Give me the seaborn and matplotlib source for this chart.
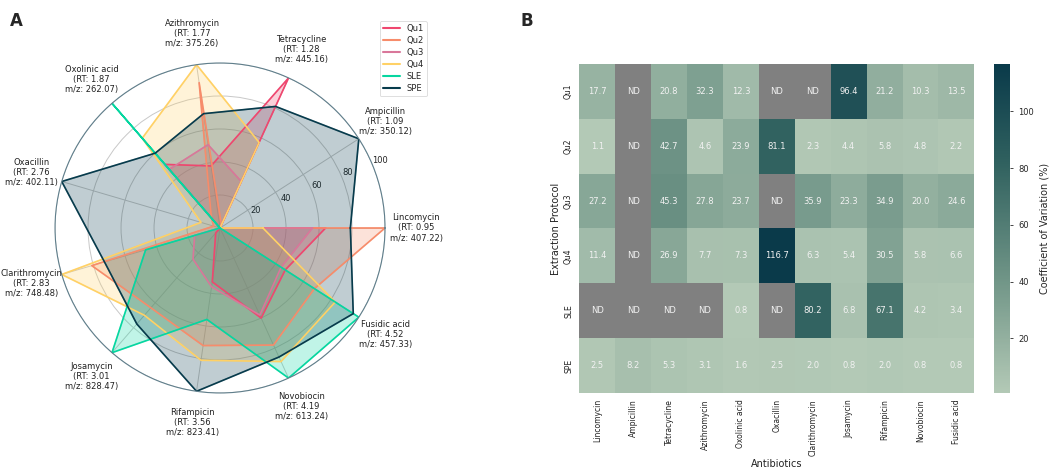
import numpy as np
import pandas as pd
import matplotlib
matplotlib.use('Agg')
import matplotlib.pyplot as plt
import seaborn as sns
from matplotlib.colors import LinearSegmentedColormap, ListedColormap

# Radar data (relative response, %; 0 = not detected)
antibiotics = ['Lincomycin', 'Ampicillin', 'Tetracycline', 'Azithromycin', 'Oxolinic acid',
               'Oxacillin', 'Clarithromycin', 'Josamycin', 'Rifampicin', 'Novobiocin', 'Fusidic acid']
rt_values = [0.95, 1.09, 1.28, 1.77, 1.87, 2.76, 2.83, 3.01, 3.56, 4.19, 4.52]
mz_values = [407.22, 350.12, 445.16, 375.26, 262.07, 402.11, 748.48, 828.47, 823.41, 613.24, 457.33]

qu1 = [64, 0, 100, 38, 51, 0, 0, 4, 33, 60, 47]
qu2 = [100, 0, 2, 89, 8, 4, 81, 64, 72, 78, 68]
qu3 = [56, 0, 31, 51, 47, 0, 16, 25, 36, 58, 44]
qu4 = [26, 0, 57, 100, 72, 12, 100, 70, 81, 89, 83]
sle = [0, 0, 0, 0, 100, 0, 47, 100, 56, 100, 100]
spe = [79, 100, 81, 70, 60, 100, 73, 77, 100, 86, 96]

methods = ['Qu1', 'Qu2', 'Qu3', 'Qu4', 'SLE', 'SPE']
colors = ['#ef476f', '#f78c6b', '#d9779a', '#ffd166', '#06d6a0', '#073b4c']

# Heatmap data (CV %, None = ND)
cv_qu1 = [17.7, None, 20.8, 32.3, 12.3, None, None, 96.4, 21.2, 10.3, 13.5]
cv_qu2 = [1.1, None, 42.7, 4.6, 23.9, 81.1, 2.3, 4.4, 5.8, 4.8, 2.2]
cv_qu3 = [27.2, None, 45.3, 27.8, 23.7, None, 35.9, 23.3, 34.9, 20.0, 24.6]
cv_qu4 = [11.4, None, 26.9, 7.7, 7.3, 116.7, 6.3, 5.4, 30.5, 5.8, 6.6]
cv_sle = [None, None, None, None, 0.8, None, 80.2, 6.8, 67.1, 4.2, 3.4]
cv_spe = [2.5, 8.2, 5.3, 3.1, 1.6, 2.5, 2.0, 0.8, 2.0, 0.8, 0.8]

sns.set_style('white')
plt.rcParams['font.family'] = ['DejaVu Sans']
text_col = '#222222'

fig = plt.figure(figsize=(10.52, 4.67), dpi=100)

# ---------- Panel A: radar ----------
ax = fig.add_axes([0.0523, 0.1585, 0.3137, 0.7066], projection='polar')
n = len(antibiotics)
angles = np.linspace(0, 2 * np.pi, n, endpoint=False)
closed = np.concatenate([angles, angles[:1]])

for name, vals, col in zip(methods, [qu1, qu2, qu3, qu4, sle, spe], colors):
    v = np.array(vals + vals[:1], dtype=float)
    ax.plot(closed, v, color=col, linewidth=1.2, label=name)
    ax.fill(closed, v, color=col, alpha=0.25)

ax.set_ylim(0, 100)
ax.set_yticks([20, 40, 60, 80, 100])
ax.set_yticklabels(['20', '40', '60', '80', '100'], fontsize=6, color=text_col)
ax.set_rlabel_position(22.5)
ax.set_xticks(angles)
ax.set_xticklabels([])
ax.grid(color='#c8c8c8', linewidth=0.7)
ax.spines['polar'].set_color('#5f7e8b')
ax.spines['polar'].set_linewidth(0.8)

for ang, name, rt, mz in zip(angles, antibiotics, rt_values, mz_values):
    ax.text(ang, 119, f'{name}\n(RT: {rt:.2f}\nm/z: {mz:.2f})', ha='center', va='center',
            fontsize=6, color=text_col, linespacing=1.15)

leg = ax.legend(loc='upper right', bbox_to_anchor=(1.14, 1.14), fontsize=6,
                frameon=True, handlelength=2.0, handletextpad=0.8, borderpad=0.4,
                labelspacing=0.35)
leg.get_frame().set_edgecolor('#d0d0d0')
leg.get_frame().set_linewidth(0.6)
for line in leg.get_lines():
    line.set_linewidth(1.5)

fig.text(0.009, 0.975, 'A', fontsize=12, fontweight='bold', va='top')

# ---------- Panel B: heatmap ----------
cv = pd.DataFrame([cv_qu1, cv_qu2, cv_qu3, cv_qu4, cv_sle, cv_spe],
                  index=methods, columns=antibiotics, dtype=float)
nd = cv.isna()
annot = cv.map(lambda x: 'ND' if pd.isna(x) else f'{x:.1f}')

hax = fig.add_axes([0.5507, 0.1585, 0.3755, 0.7045])
cax = fig.add_axes([0.9452, 0.1585, 0.0150, 0.7045])

cmap = LinearSegmentedColormap.from_list(
    'cv', [(0, '#b3c9b6'), (0.35, '#6f9486'), (0.7, '#30615f'), (1, '#0a3a4a')], N=256)
annot_kws = {'fontsize': 6, 'color': '#f2f2f2'}

sns.heatmap(nd.astype(float), mask=~nd, cmap=ListedColormap(['#808080']), cbar=False,
            annot=annot, fmt='', annot_kws=annot_kws, ax=hax)
sns.heatmap(cv, mask=nd, cmap=cmap, annot=annot, fmt='', annot_kws=annot_kws,
            ax=hax, cbar_ax=cax, cbar_kws={'label': 'Coefficient of Variation (%)'})

hax.set_xlabel('Antibiotics', fontsize=7, color=text_col, labelpad=2)
hax.set_ylabel('Extraction Protocol', fontsize=7, color=text_col, labelpad=2)
hax.tick_params(axis='both', labelsize=5.5, colors=text_col, length=2.5, width=0.6, pad=2)
hax.set_xticklabels(antibiotics, rotation=90)
hax.set_yticklabels(methods, rotation=90, va='center')
cax.tick_params(labelsize=6, length=2.5, width=0.6)
cax.yaxis.label.set_size(7)
for s in cax.spines.values():
    s.set_visible(False)

fig.text(0.495, 0.975, 'B', fontsize=12, fontweight='bold', va='top')

fig.savefig('out.png', dpi=100)
